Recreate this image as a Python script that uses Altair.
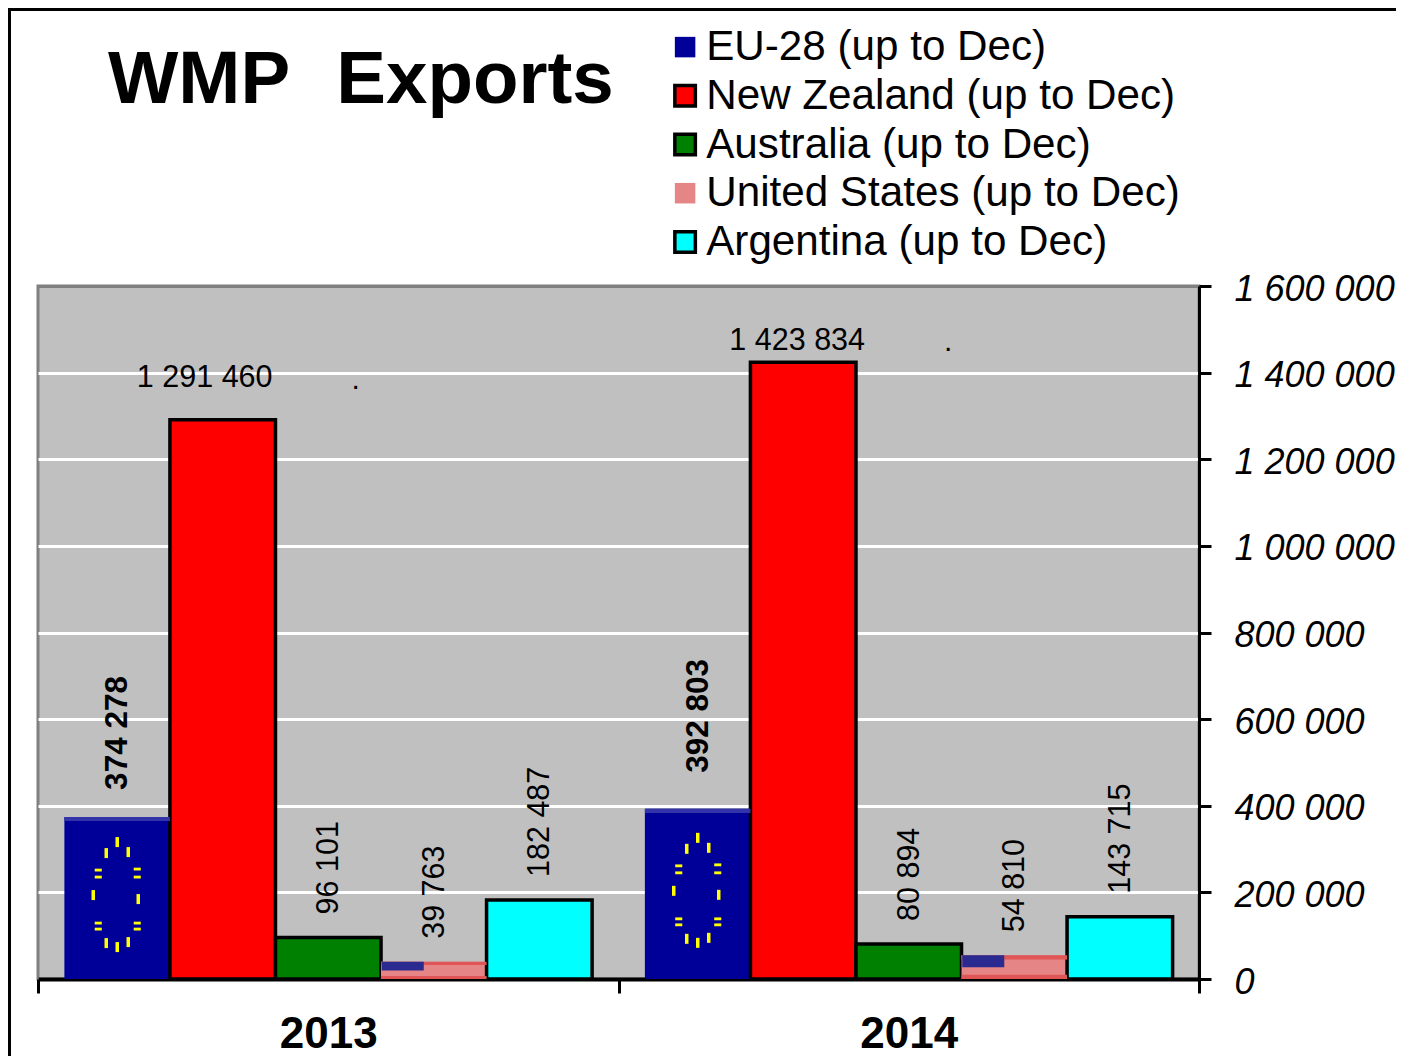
import altair as alt
import pandas as pd

years = ["2013", "2014"]
series = ["EU-28 (up to Dec)", "New Zealand (up to Dec)", "Australia (up to Dec)",
          "United States (up to Dec)", "Argentina (up to Dec)"]
values_2013 = [374278, 1291460, 96101, 39763, 182487]
values_2014 = [392803, 1423834, 80894, 54810, 143715]
fills = ["#000099", "#ff0000", "#008000", "#e58585", "#00ffff"]
strokes = ["transparent", "#000000", "#000000", "transparent", "#000000"]
y_ticks = [0, 200000, 400000, 600000, 800000, 1000000, 1200000, 1400000, 1600000]

rows = []
for yr, vals in zip(years, [values_2013, values_2014]):
    for s, v in zip(series, vals):
        rows.append({"year": yr, "series": s, "value": v})
df = pd.DataFrame(rows)

FONT = "Liberation Sans"
EU, NZ, US = series[0], series[1], series[3]

x = alt.X("year:N", title=None, scale=alt.Scale(domain=years, paddingInner=0, paddingOuter=0),
          axis=alt.Axis(labelAngle=0, labelFont=FONT, labelFontWeight="bold", labelFontSize=44,
                        labelColor="#000", labelPadding=19, tickBand="extent", tickSize=14,
                        tickWidth=3, tickColor="#000", domainColor="#000", domainWidth=4, grid=False))
xo = alt.XOffset("series:N", scale=alt.Scale(domain=series, paddingInner=0, paddingOuter=0.25))
y = alt.Y("value:Q", title=None, scale=alt.Scale(domain=[0, 1600000], nice=False),
          axis=alt.Axis(orient="right", values=y_ticks, grid=True,
                        gridColor={"condition": {"test": "datum.value === 1600000", "value": "#808080"},
                                   "value": "#ffffff"},
                        gridWidth=3, tickSize=12, tickWidth=3, tickColor="#000",
                        domainColor="#000", domainWidth=3,
                        labelFont=FONT, labelFontStyle="italic", labelFontSize=36, labelColor="#000",
                        labelAlign="left", labelPadding=23, labelLimit=400, labelOffset=3,
                        labelExpr="replace(format(datum.value, ','), regexp(',', 'g'), ' ')"))

legend = alt.Legend(title=None, orient="none", legendX=626, legendY=-260, symbolType="square",
                    symbolSize=420, symbolStrokeWidth=3.5, labelFont=FONT, labelFontSize=42.2,
                    labelColor="#000", labelLimit=700, rowPadding=5.7, labelOffset=0)

base = alt.Chart(df).transform_calculate(
    label="replace(format(datum.value, ','), regexp(',', 'g'), ' ')",
    mid="datum.value * 0.53", band="datum.value * 0.975", c0="datum.value * 0.5",
    st_top="datum.value * 0.82", st_bot="datum.value * 0.18")

bars = base.mark_bar(strokeWidth=3.5).encode(
    x=x, xOffset=xo, y=y,
    color=alt.Color("series:N", scale=alt.Scale(domain=series, range=fills), legend=legend),
    stroke=alt.Stroke("series:N", scale=alt.Scale(domain=series, range=strokes), legend=legend),
)

eu = base.transform_filter(alt.datum.series == EU)
us = base.transform_filter(alt.datum.series == US)

STEP = 105.5
eu_band = eu.mark_bar(color="#3333aa").encode(x=x, xOffset=xo, y=y, y2="band:Q")
us_top = us.mark_bar(color="#e05555").encode(x=x, xOffset=xo, y=y, y2="st_top:Q")
us_bot = us.transform_calculate(zero="0").mark_bar(color="#e05555").encode(
    x=x, xOffset=xo, y="st_bot:Q", y2="zero:Q")
us_canton = us.mark_bar(color="#2a2a90", width=42, xOffset=STEP - 31).encode(
    x=x, y=y, y2="c0:Q")

V = "M-.35,-1L.35,-1L.35,1L-.35,1Z"
H = "M-1,-.4L1,-.4L1,.4L-1,.4Z"
stars = [(0, -51, V), (-11, -40, V), (11, -41, V),
         (-19, -23, H), (-19, -16, H), (20, -24, H), (20, -16, H),
         (-24, 2, V), (21, 6, V),
         (-19, 30, H), (-19, 36, H), (20, 30, H), (20, 36, H),
         (-11, 50, V), (11, 49, V), (0, 54, V)]
star_layers = [
    eu.mark_point(shape=shp, size=100 if shp == V else 50, filled=True, color="#ffff00",
                  opacity=1, xOffset=dx - 2 * STEP, yOffset=dy).encode(x=x, y="mid:Q")
    for dx, dy, shp in stars
]

txt = dict(font=FONT, fontSize=30.5, color="#000")
rot_all = base.transform_filter(alt.datum.series != NZ)
rot_plain = rot_all.transform_filter(alt.datum.series != EU).mark_text(
    angle=270, align="left", baseline="middle", dx=23, dy=1, **txt).encode(x=x, xOffset=xo, y=y, text="label:N")
rot_bold = [
    eu.transform_filter(alt.datum.year == yr).mark_text(
        angle=270, align="left", baseline="middle", dx=d, dy=1, font=FONT, fontSize=31.5,
        color="#000", fontWeight="bold").encode(x=x, xOffset=xo, y=y, text="label:N")
    for yr, d in zip(years, [27, 36])
]

nz = base.transform_filter(alt.datum.series == NZ)
nz_layers = []
for yr, (tdx, tdy, pdx, pdy) in zip(years, [(-18, -42, 133, -40), (-6, -21, 145, -20)]):
    one = nz.transform_filter(alt.datum.year == yr)
    nz_layers.append(one.mark_text(align="center", baseline="middle", dx=tdx, dy=tdy, **txt).encode(
        x=x, xOffset=xo, y=y, text="label:N"))
    nz_layers.append(one.mark_text(align="center", baseline="middle", dx=pdx, dy=pdy,
                                   font=FONT, fontSize=30, color="#000").encode(
        x=x, xOffset=xo, y=y, text=alt.value(".")))

frame_top = alt.Chart(df).mark_rule(color="#000", strokeWidth=3).encode(
    x=alt.value(-30), x2=alt.value(1360), y=alt.value(-277))
frame_left = alt.Chart(df).mark_rule(color="#000", strokeWidth=3).encode(
    x=alt.value(-29), y=alt.value(-278), y2=alt.value(770))

chart = alt.layer(bars, eu_band, us_top, us_bot, us_canton, *star_layers, rot_plain, *rot_bold,
                  *nz_layers, frame_top, frame_left).properties(
    width=1161, height=693,
    padding={"left": 30, "top": 278, "right": 197, "bottom": 77},
    autosize=alt.AutoSizeParams(type="none"),
    title=alt.TitleParams("WMP \u00a0\u200aExports", anchor="start", frame="group", dx=70, offset=0, dy=112,
                          font=FONT, fontWeight="bold", fontSize=74.5, color="#000"),
    background="#ffffff",
).configure_view(fill="#c0c0c0", stroke="#808080", strokeWidth=3)

chart.save("out.html", embed_options={"renderer": "svg", "actions": False})
